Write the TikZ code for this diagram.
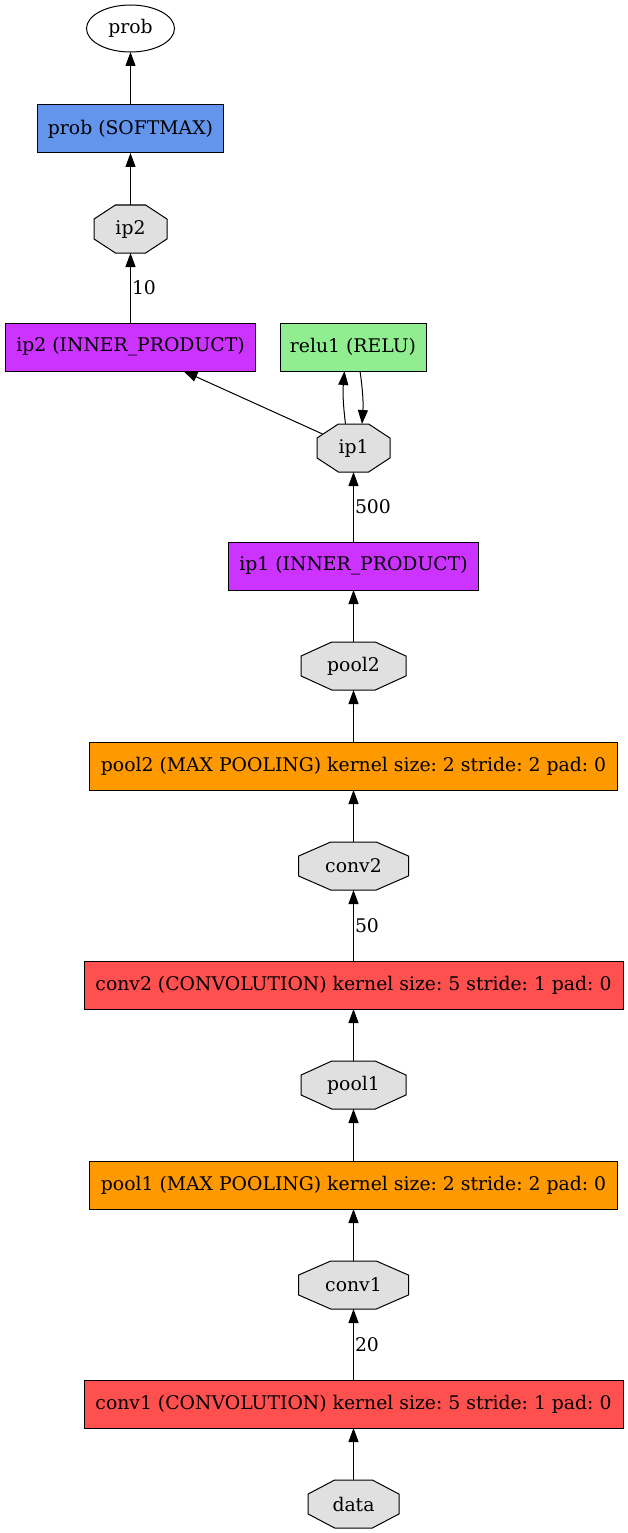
\documentclass[tikz,border=0pt]{standalone}
\usepackage{fontspec}
\setmainfont{DejaVu Serif}
\usetikzlibrary{shapes.geometric,arrows.meta}
\definecolor{blobc}{HTML}{E0E0E0}
\definecolor{convc}{HTML}{FF5050}
\definecolor{poolc}{HTML}{FF9900}
\definecolor{ipc}{HTML}{CC33FF}
\definecolor{reluc}{HTML}{90EE90}
\definecolor{softc}{HTML}{6495ED}
\newcommand\blobnode[5]{%
  \filldraw[blobline] ({#2-#4/2},{#3-9.94}) -- ({#2-0.207*#4},{#3-24}) -- ({#2+0.207*#4},{#3-24})
    -- ({#2+#4/2},{#3-9.94}) -- ({#2+#4/2},{#3+9.94}) -- ({#2+0.207*#4},{#3+24})
    -- ({#2-0.207*#4},{#3+24}) -- ({#2-#4/2},{#3+9.94}) -- cycle;
  \node[blobtext, minimum width=#4] (#1) at (#2,#3) {#5};}
\begin{document}
\frenchspacing
\begin{tikzpicture}[x=1pt,y=-1pt,
  every node/.style={font=\fontsize{18.8}{23}\selectfont, inner sep=0pt, outer sep=0pt},
  layer/.style={rectangle, draw=black, line width=1pt, minimum height=48pt, minimum width=#1},
  blobline/.style={fill=blobc, draw=black, line width=1pt},
  blobtext/.style={rectangle, minimum height=48pt},
  elabel/.style={anchor=west, inner sep=1.5pt},
  edge/.style={line width=1pt, -{Triangle[length=14pt,width=10pt]}}]
\useasboundingbox (0,0) rectangle (628,1533);
\node[ellipse, draw=black, line width=1pt, fill=white, minimum width=88pt, minimum height=47pt] (prob) at (130.5,28.5) {prob};
\node[layer=186pt, fill=softc] (soft) at (130.5,129) {prob (SOFTMAX)};
\blobnode{ip2b}{130.5}{229}{73}{ip2}
\node[layer=250pt, fill=ipc] (ip2l) at (130.5,347) {ip2 (INNER\_PRODUCT)};
\node[layer=146pt, fill=reluc] (relu) at (353,347) {relu1 (RELU)};
\blobnode{ip1b}{353.5}{448}{73}{ip1}
\node[layer=250pt, fill=ipc] (ip1l) at (353.5,566) {ip1 (INNER\_PRODUCT)};
\blobnode{pool2b}{353.5}{666}{105}{pool2}
\node[layer=528pt, fill=poolc] (pool2l) at (353.5,766) {pool2 (MAX POOLING) kernel size: 2 stride: 2 pad: 0};
\blobnode{conv2b}{353.5}{866}{110}{conv2}
\node[layer=539pt, fill=convc] (conv2l) at (353.5,985) {conv2 (CONVOLUTION) kernel size: 5 stride: 1 pad: 0};
\blobnode{pool1b}{353.5}{1085}{105}{pool1}
\node[layer=528pt, fill=poolc] (pool1l) at (353.5,1185) {pool1 (MAX POOLING) kernel size: 2 stride: 2 pad: 0};
\blobnode{conv1b}{353.5}{1285}{110}{conv1}
\node[layer=539pt, fill=convc] (conv1l) at (353.5,1404) {conv1 (CONVOLUTION) kernel size: 5 stride: 1 pad: 0};
\blobnode{data}{353.5}{1504}{91}{data}

\draw[edge] (data) -- (conv1l);
\draw[edge] (conv1l) -- node[elabel] {20} (conv1b);
\draw[edge] (conv1b) -- (pool1l);
\draw[edge] (pool1l) -- (pool1b);
\draw[edge] (pool1b) -- (conv2l);
\draw[edge] (conv2l) -- node[elabel] {50} (conv2b);
\draw[edge] (conv2b) -- (pool2l);
\draw[edge] (pool2l) -- (pool2b);
\draw[edge] (pool2b) -- (ip1l);
\draw[edge] (ip1l) -- node[elabel] {500} (ip1b);
\draw[edge, shorten <=-6.5pt] (ip1b) -- (ip2l);
\draw[edge] ([xshift=-8pt]ip1b.north) to[bend left=6] ([xshift=-8.5pt]relu.south);
\draw[edge] ([xshift=7pt]relu.south) to[bend left=6] ([xshift=8.5pt]ip1b.north);
\draw[edge] (ip2l) -- node[elabel] {10} (ip2b);
\draw[edge] (ip2b) -- (soft);
\draw[edge] (soft) -- (prob);
\end{tikzpicture}
\end{document}
